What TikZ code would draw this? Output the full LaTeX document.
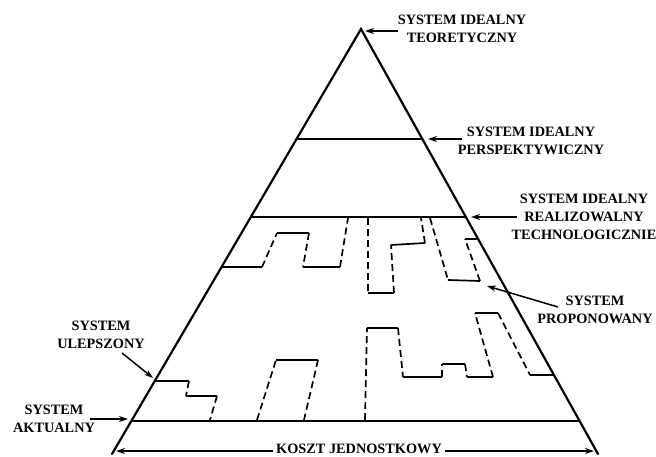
\documentclass[tikz,border=0pt]{standalone}
\usepackage{fontspec}
\setmainfont{Liberation Serif}
\usetikzlibrary{arrows.meta,calc}
\begin{document}
\begin{tikzpicture}[x=1pt,y=-1pt,
  side/.style={line width=2.2pt,line cap=round},
  level/.style={line width=2.8pt},
  stair/.style={line width=1.7pt},
  stairdash/.style={line width=1.7pt,dash pattern=on 7pt off 4pt},
  pointer/.style={line width=1.5pt,-{Stealth[length=9pt,width=6pt]}},
  label/.style={font=\fontsize{14.3}{18}\selectfont\bfseries,align=center,inner sep=0pt}]
\useasboundingbox (0,0) rectangle (656,457);

% pyramid outline
\coordinate (apex) at (361,29);
\coordinate (bl) at (112,454);
\coordinate (br) at (598,454);
\draw[side] (bl) -- (apex) -- (br);

% levels across the pyramid
\draw[level] ($(apex)!0.2588!(bl)$) -- ($(apex)!0.2588!(br)$);
\draw[level] ($(apex)!0.4424!(bl)$) -- ($(apex)!0.4424!(br)$);
\draw[level] ($(apex)!0.9224!(bl)$) -- ($(apex)!0.9224!(br)$);

% upper staircase
\draw[stair] (222,267) -- (262,267);
\draw[stairdash] (262,267) -- (277,233);
\draw[stair] (277,233) -- (309,233);
\draw[stairdash] (309,233) -- (303,267);
\draw[stair] (303,267) -- (340,267);
\draw[stairdash] (340,267) -- (348,218);

\draw[stairdash] (368,218) -- (368,293);
\draw[stair] (368,293) -- (394,293);
\draw[stairdash] (394,293) -- (391,245);
\draw[stair] (391,245) -- (425,243);
\draw[stairdash] (425,243) -- (421,218);

\draw[stairdash] (430,218) -- (448,280);
\draw[stair] (448,280) -- (480,281);
\draw[stairdash] (480,281) -- (465,239);
\draw[stair] (465,239) -- (478,239);

% lower staircase
\draw[stair] (155,381) -- (189,381);
\draw[stairdash] (189,381) -- (186,396);
\draw[stair] (186,396) -- (217,396);
\draw[stairdash] (217,396) -- (210,420);

\draw[stairdash] (257,420) -- (276,360);
\draw[stair] (276,360) -- (318,360);
\draw[stairdash] (318,360) -- (304,420);

\draw[stairdash] (365,420) -- (367,328);
\draw[stair] (367,328) -- (398,328);
\draw[stairdash] (398,328) -- (403,377);
\draw[stair] (403,377) -- (442,377);
\draw[stairdash] (442,377) -- (442,364);
\draw[stair] (442,364) -- (465,364);
\draw[stairdash] (465,364) -- (467,377);
\draw[stair] (467,377) -- (493,377);
\draw[stairdash] (493,377) -- (475,313);
\draw[stair] (475,313) -- (498,313);
\draw[stairdash] (498,313) -- (530,375);
\draw[stair] (530,375) -- (554,375);

% labels
\node[label] (teor) at (462,29) {SYSTEM IDEALNY\\TEORETYCZNY};
\node[label] (persp) at (531,141) {SYSTEM IDEALNY\\PERSPEKTYWICZNY};
\node[label] (tech) at (584,217) {SYSTEM IDEALNY\\REALIZOWALNY\\TECHNOLOGICZNIE};
\node[label] (prop) at (595,310) {SYSTEM\\PROPONOWANY};
\node[label] (ulep) at (101,335) {SYSTEM\\ULEPSZONY};
\node[label] (akt) at (54,419) {SYSTEM\\AKTUALNY};

% pointers
\coordinate (tApex) at (365,31);
\coordinate (tPersp) at (428,139);
\coordinate (tTech) at (471,217);
\coordinate (tProp) at (487,286);
\coordinate (tUlep) at (153,378);
\coordinate (tAkt) at (128,419);
\coordinate (sApex) at (398,31);
\coordinate (sPersp) at (462,139);
\coordinate (sTech) at (517,217);
\coordinate (sProp) at (558,307);
\coordinate (sUlep) at (122,353);
\coordinate (sAkt) at (90,419);
\draw[pointer] (sApex) -- (tApex);
\draw[pointer] (sPersp) -- (tPersp);
\draw[pointer] (sTech) -- (tTech);
\draw[pointer] (sProp) -- (tProp);
\draw[pointer] (sUlep) -- (tUlep);
\draw[pointer] (sAkt) -- (tAkt);

% unit cost axis
\coordinate (costL) at (116,451);
\coordinate (costR) at (594,451);
\draw[line width=1.5pt,{Stealth[length=9pt,width=6pt]}-{Stealth[length=9pt,width=6pt]}] (costL) -- (costR);
\node[label,fill=white,inner xsep=3pt,inner ysep=0.5pt] (cost) at (359,449) {KOSZT JEDNOSTKOWY};
\end{tikzpicture}
\end{document}
